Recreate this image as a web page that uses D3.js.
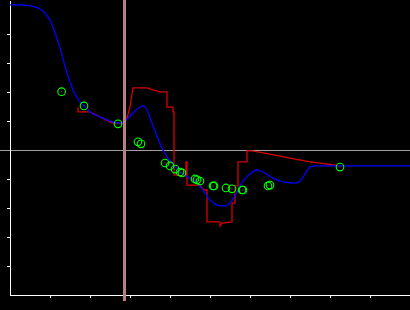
<!DOCTYPE html>
<html>
<head>
<meta charset="utf-8">
<script src="https://cdn.jsdelivr.net/npm/d3@7"></script>
<style>
  html, body { margin: 0; padding: 0; background: #000; overflow: hidden; }
  svg { display: block; }
  .axis path, .axis line { stroke: #fff; }
</style>
</head>
<body>
<svg width="410" height="310"></svg>
<script>
"use strict";

// smooth fitted curve (blue)
var fitX = [0, 0.25, 0.625, 0.75, 0.875, 1.0, 1.125, 1.25, 1.375, 1.5, 1.625, 1.75, 1.85, 2.0, 2.25, 2.5, 2.7, 2.85, 3.0, 3.15, 3.325, 3.425, 3.5, 3.675, 3.825, 3.95, 4.075, 4.25, 4.5, 4.675, 4.825, 5.0, 5.125, 5.25, 5.375, 5.5, 5.675, 5.825, 6.0, 6.175, 6.325, 6.575, 6.825, 7.125, 7.25, 7.375, 7.5, 7.65, 8.25, 10];
var fitY = [5.0, 5.0, 4.93, 4.86, 4.72, 4.48, 4.03, 3.52, 2.9, 2.34, 1.93, 1.66, 1.52, 1.31, 1.14, 1.0, 0.93, 0.97, 1.17, 1.38, 1.52, 1.38, 1.1, 0.48, 0.0, -0.28, -0.48, -0.76, -0.97, -1.14, -1.38, -1.72, -1.86, -1.93, -1.93, -1.83, -1.45, -1.07, -0.83, -0.69, -0.76, -0.97, -1.1, -1.14, -1.07, -0.83, -0.59, -0.55, -0.55, -0.55];

// stepped signal (red)
var stepX = [1.7, 1.7, 2.0, 2.25, 2.5, 2.575, 2.85, 2.925, 3.0, 3.075, 3.425, 3.575, 3.75, 3.925, 3.925, 4.075, 4.075, 4.1, 4.1, 4.4, 4.4, 4.425, 4.425, 4.75, 4.8, 4.85, 4.925, 4.925, 5.25, 5.25, 5.3, 5.55, 5.55, 5.625, 5.625, 5.7, 5.7, 5.925, 5.925, 6.05, 6.5, 7.0, 7.5, 8.0, 8.25];
var stepY = [1.48, 1.31, 1.31, 1.14, 0.97, 0.93, 0.93, 1.1, 1.48, 2.14, 2.14, 2.07, 2.0, 2.0, 1.48, 1.48, 1.31, 1.31, -0.86, -0.9, -0.41, -0.41, -1.21, -1.21, -1.31, -1.38, -1.38, -2.48, -2.48, -2.62, -2.52, -2.48, -1.83, -1.83, -1.24, -1.24, -0.41, -0.41, -0.03, -0.03, -0.14, -0.28, -0.41, -0.5, -0.55];

// samples (green circles)
var sampleX = [1.29, 1.85, 2.7, 3.2, 3.275, 3.875, 4.0, 4.125, 4.25, 4.3, 4.625, 4.675, 4.75, 5.075, 5.1, 5.4, 5.55, 5.8, 5.825, 6.45, 6.5, 8.25];
var sampleY = [2.01, 1.52, 0.9, 0.28, 0.21, -0.45, -0.55, -0.66, -0.76, -0.79, -1.0, -1.03, -1.07, -1.24, -1.24, -1.31, -1.34, -1.38, -1.38, -1.24, -1.21, -0.59];

var markerX = 2.86;
var xTicks = [1, 2, 3, 4, 5, 6, 7, 8, 9, 10];
var yTicks = [-4, -3, -2, -1, 1, 2, 3, 4];

var svg = d3.select("svg");
var W = 410;

var x = d3.scaleLinear().domain([0, 10]).range([10, 410]);
var y = d3.scaleLinear().domain([-5, 5.17]).range([295, 0]);

// zero line
svg.append("line")
   .attr("x1", 0).attr("x2", W)
   .attr("y1", Math.round(y(0)) + 0.5).attr("y2", Math.round(y(0)) + 0.5)
   .attr("stroke", "#a0a0a0")
   .attr("stroke-width", 1)
   .attr("shape-rendering", "crispEdges");

svg.append("g")
   .attr("class", "axis")
   .attr("transform", "translate(10,0)")
   .call(d3.axisLeft(y).tickValues(yTicks).tickSize(3).tickSizeOuter(0).tickFormat(""))
   .attr("shape-rendering", "crispEdges");

svg.append("g")
   .attr("class", "axis")
   .attr("transform", "translate(0,295)")
   .call(d3.axisBottom(x).tickValues(xTicks).tickSize(3).tickSizeOuter(0).tickFormat(""))
   .attr("shape-rendering", "crispEdges");

var fit = fitX.map(function(d, i){ return [d, fitY[i]]; });
var step = stepX.map(function(d, i){ return [d, stepY[i]]; });
var samples = sampleX.map(function(d, i){ return [d, sampleY[i]]; });

var line = d3.line()
    .x(function(d){ return x(d[0]); })
    .y(function(d){ return y(d[1]); });

svg.append("path")
   .datum(step)
   .attr("d", line)
   .attr("fill", "none")
   .attr("stroke", "#d80000")
   .attr("stroke-width", 1.3);

svg.append("path")
   .datum(fit)
   .attr("d", line.curve(d3.curveMonotoneX))
   .attr("fill", "none")
   .attr("stroke", "#0000ff")
   .attr("stroke-width", 1.3);

var g = svg.append("g").selectAll("g").data(samples).enter()
    .append("g")
    .attr("transform", function(d){ return "translate(" + x(d[0]) + "," + y(d[1]) + ")"; });
g.append("circle")
 .attr("r", 3.8)
 .attr("fill", "none")
 .attr("stroke", "#00ff00")
 .attr("stroke-width", 1.1);
g.append("rect")
 .attr("x", -0.5).attr("y", -0.5)
 .attr("width", 1).attr("height", 1)
 .attr("fill", "#008800");

// vertical marker
svg.append("rect")
   .attr("x", Math.round(x(markerX)) - 1.5)
   .attr("y", 0)
   .attr("width", 3)
   .attr("height", 301)
   .attr("fill", "#b88080")
   .attr("shape-rendering", "crispEdges");
</script>
</body>
</html>
